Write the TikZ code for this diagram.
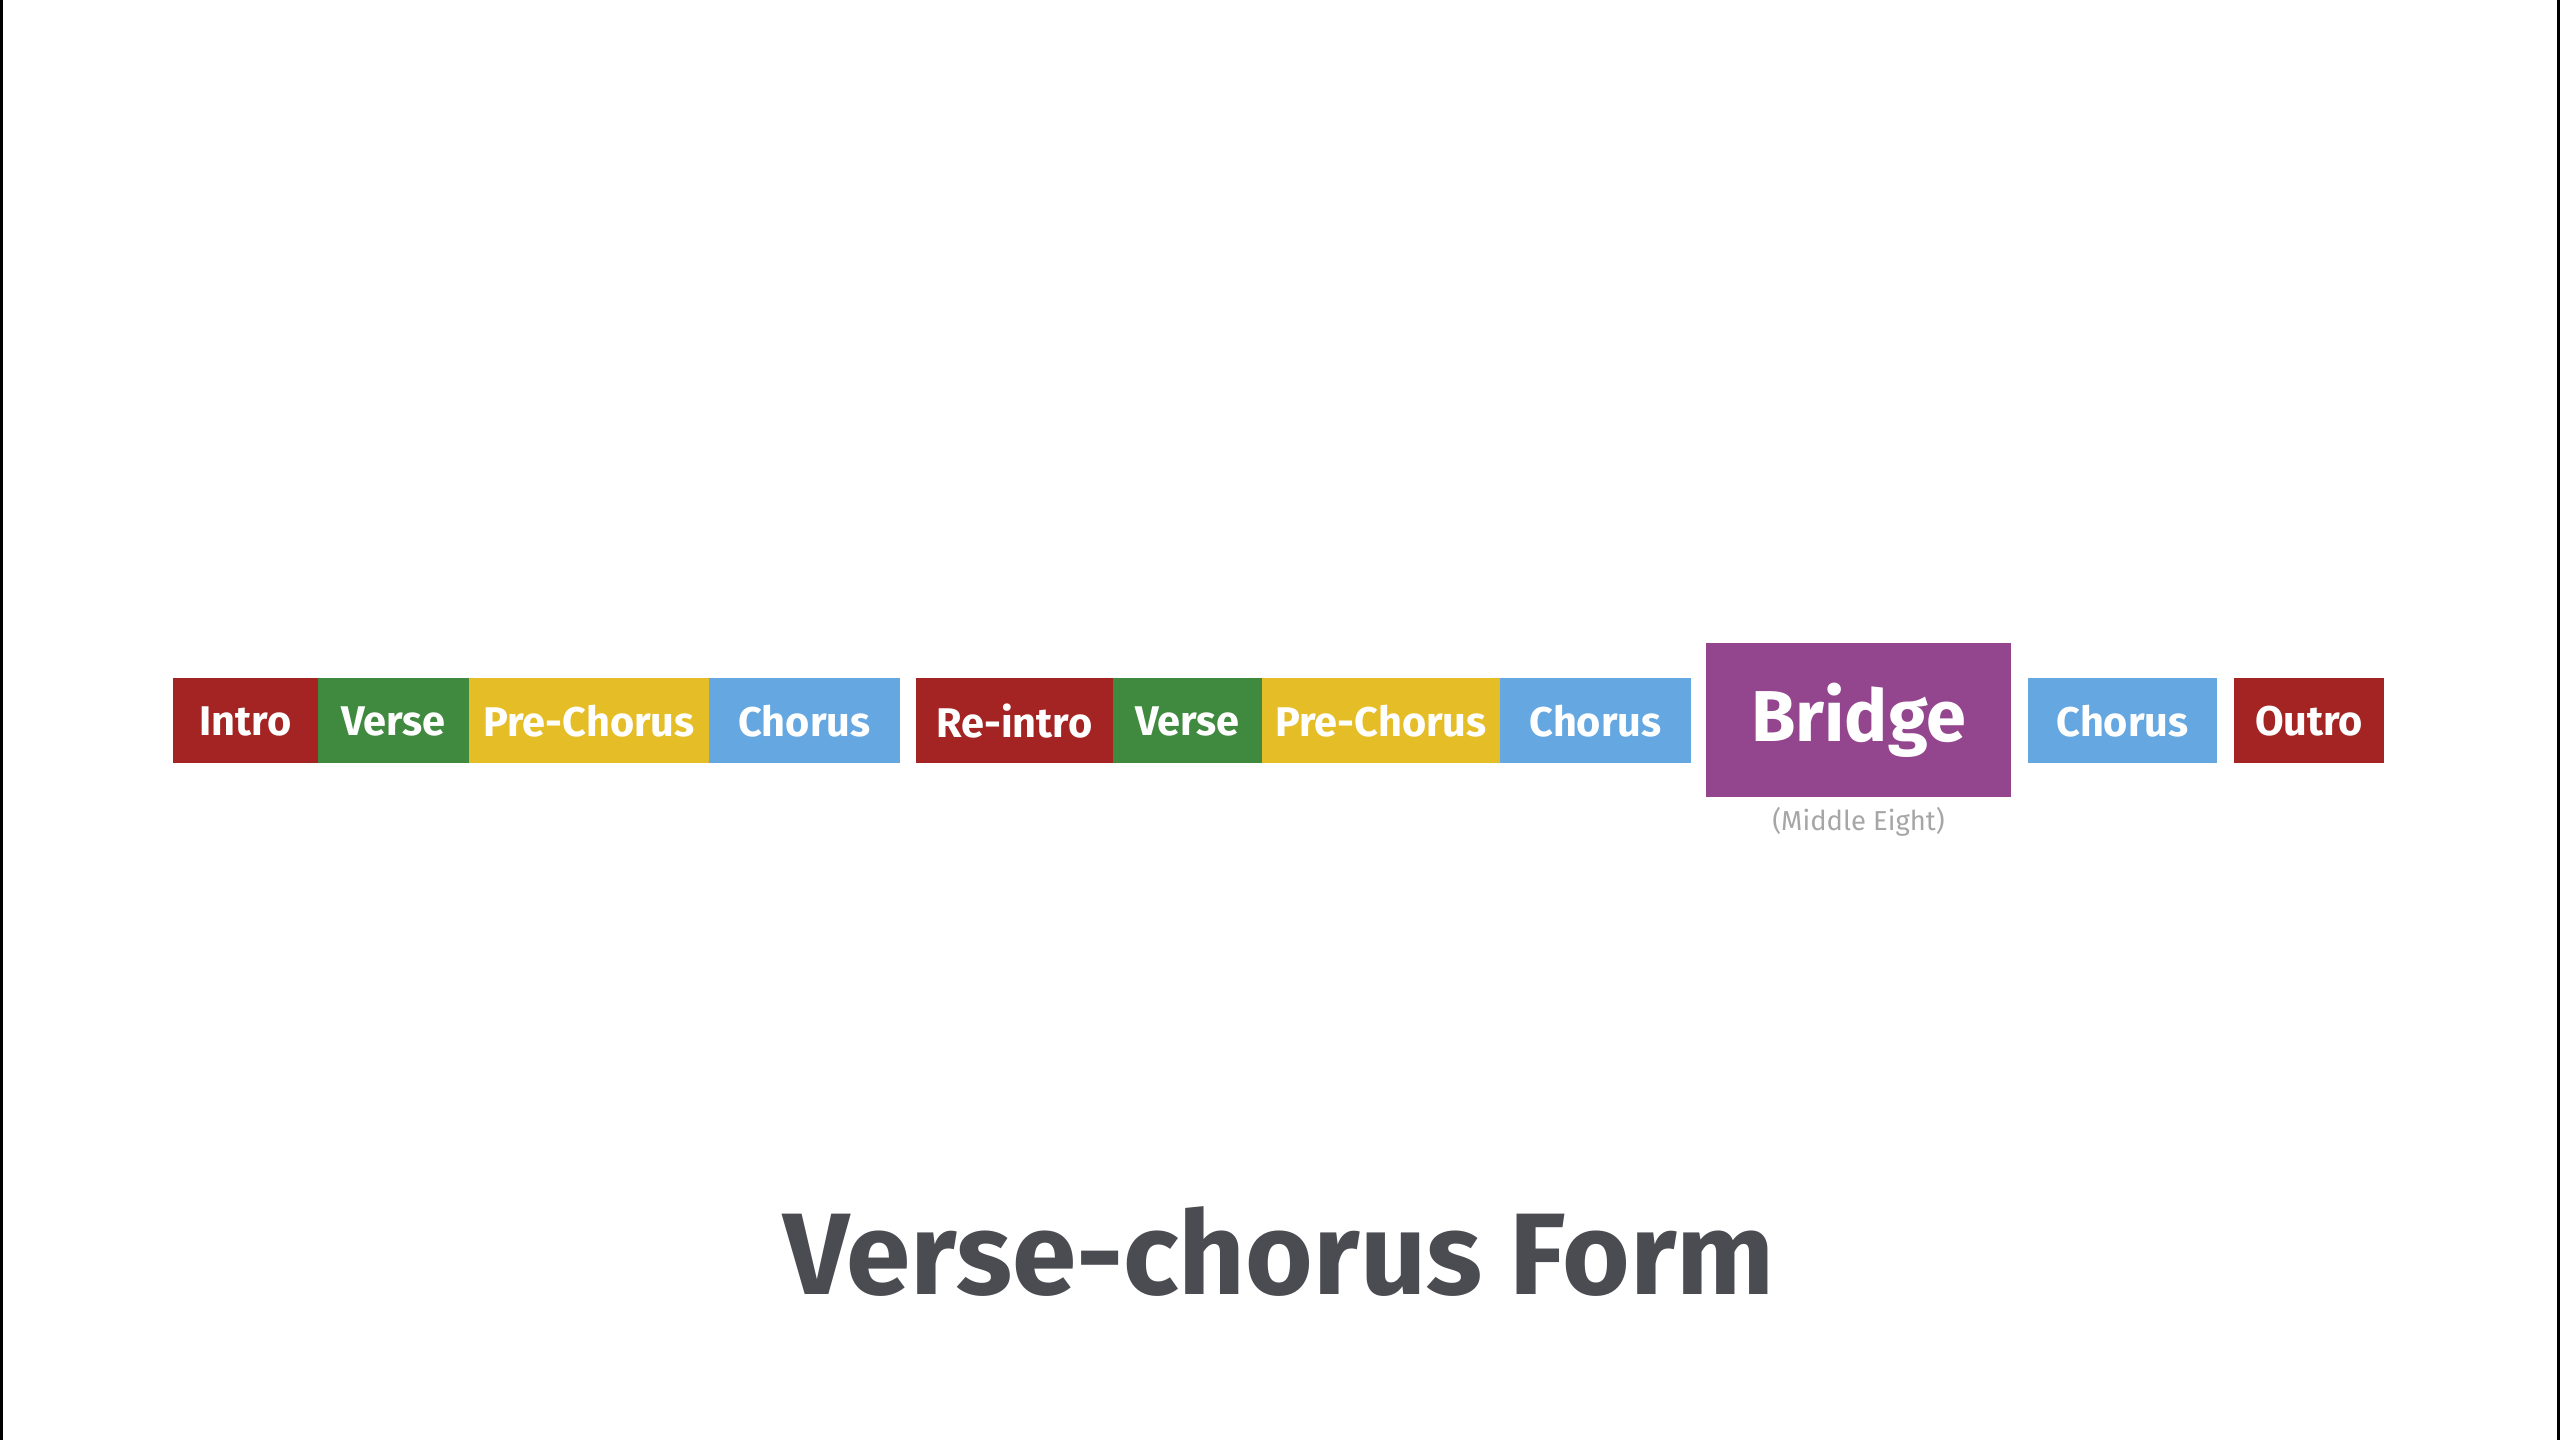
\documentclass[tikz,border=0pt]{standalone}
\usepackage{fontspec}
\setmainfont{Fira Sans}
\usepackage{xcolor}
\usetikzlibrary{positioning}

\definecolor{introred}{HTML}{A32422}
\definecolor{versegreen}{HTML}{3F8A3F}
\definecolor{preyellow}{HTML}{E5BE27}
\definecolor{chorusblue}{HTML}{64A7E1}
\definecolor{bridgepurple}{HTML}{93458E}
\definecolor{titlegray}{HTML}{4B4B52}
\definecolor{notegray}{HTML}{A6A6A6}

\tikzset{
  seg/.style={rectangle, inner sep=0pt, minimum height=85*0.1mm, text=white,
    font=\fontsize{11.8}{14}\selectfont\bfseries},
}

\begin{document}
\begin{tikzpicture}[x=0.1mm, y=-0.1mm]

  % Page (one unit = one pixel of the 2560x1440 frame)
  \fill[white] (0,0) rectangle (2560,1440);
  \fill[black] (0,0) rectangle (3,1440);
  \fill[black] (2557,0) rectangle (2560,1440);

  % Song sections along one bar
  \foreach \name/\xa/\xb/\col/\txt in {
      intro/173/318/introred/Intro,
      verseA/318/469/versegreen/Verse,
      preA/469/709/preyellow/Pre-Chorus,
      chorusA/709/900/chorusblue/Chorus,
      reintro/916/1113/introred/Re-intro,
      verseB/1113/1262/versegreen/Verse,
      preB/1262/1500/preyellow/Pre-Chorus,
      chorusB/1500/1691/chorusblue/Chorus,
      chorusC/2028/2217/chorusblue/Chorus,
      outro/2234/2384/introred/Outro} {
    \node[seg, fill=\col, minimum width=(\xb-\xa)*0.1mm] (\name) at ({(\xa+\xb)/2}, 721) {\txt};
  }

  % --- Bridge (taller box) ---
  \node[seg, fill=bridgepurple, minimum width=305*0.1mm, minimum height=154*0.1mm,
    font=\fontsize{20.5}{24}\selectfont\bfseries] (bridge) at (1858.5, 720) {Bridge};
  \node[below=2.4mm of bridge.south, anchor=center, text=notegray,
    font=\fontsize{7.8}{9}\selectfont] (middle) {(Middle Eight)};

  % Title
  \node[text=titlegray, font=\fontsize{33}{38}\selectfont\bfseries, anchor=base]
    (title) at (1279, 1295) {Verse-chorus Form};

\end{tikzpicture}
\end{document}
